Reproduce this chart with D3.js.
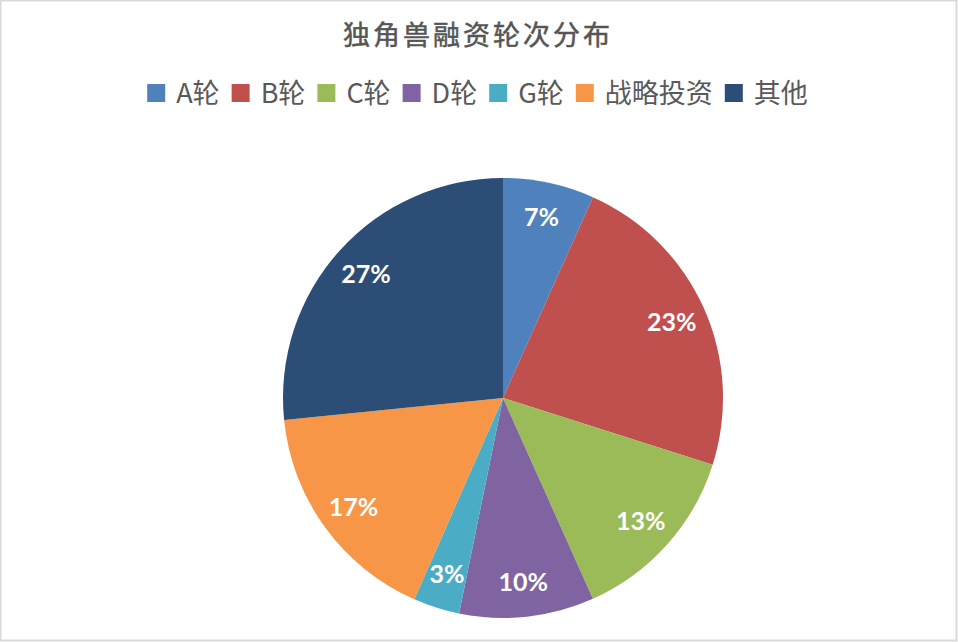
<!DOCTYPE html>
<html>
<head>
<meta charset="utf-8">
<script src="https://cdn.jsdelivr.net/npm/d3@7"></script>
<style>
  html, body { margin: 0; padding: 0; background: #fff; }
  svg { display: block; }
</style>
</head>
<body>
<svg id="chart" width="958" height="642"></svg>
<script>
// share of each round (percent)
const categories = ['A轮', 'B轮', 'C轮', 'D轮', 'G轮', '战略投资', '其他'];
const values = [6.7, 23.2, 13.4, 9.9, 3.4, 16.8, 26.6];
const colors = ['#4F81BD', '#C0504D', '#9BBB59', '#8064A2', '#4BACC6', '#F79646', '#2C4D75'];
const title = '独角兽融资轮次分布';

const width = 958;
const height = 642;
const cx = 503, cy = 398, radius = 220;

const svg = d3.select('#chart');

// outer frame
svg.append('rect')
    .attr('x', 0.5).attr('y', 0.5)
    .attr('width', width - 2).attr('height', height - 2)
    .style('fill', '#fff')
    .style('stroke', '#d9d9d9')
    .style('stroke-width', 2);

svg.append('text')
    .attr('x', 478)
    .attr('y', 45)
    .attr('text-anchor', 'middle')
    .style('font-family', '"Noto Sans CJK SC", sans-serif')
    .style('font-size', '27px')
    .style('letter-spacing', '3px')
    .style('fill', '#555')
    .style('stroke', '#555')
    .style('stroke-width', 0.5)
    .text(title);

// legend, laid out left to right then centred
const legend = svg.append('g');
const items = legend.selectAll('g')
    .data(categories)
    .enter()
    .append('g');

items.append('rect')
    .attr('width', 18)
    .attr('height', 18)
    .attr('y', -9)
    .style('fill', (d, i) => colors[i]);

items.append('text')
    .attr('x', 29)
    .attr('dy', '0.36em')
    .style('font-family', '"Noto Sans CJK SC", sans-serif')
    .style('font-size', '27px')
    .style('fill', '#595959')
    .text(d => d);

let xPos = 0;
items.each(function () {
    const g = d3.select(this);
    g.attr('transform', `translate(${xPos},0)`);
    const w = g.select('text').node().getComputedTextLength();
    xPos += 29 + w + 12;
});
const legendWidth = xPos - 12;
legend.attr('transform', `translate(${477.5 - legendWidth / 2},93)`);

// pie
const pie = d3.pie().sort(null).value(d => d);
const arcs = pie(values);
const arc = d3.arc().innerRadius(0).outerRadius(radius);
const labelArc = d3.arc().innerRadius(radius * 0.84).outerRadius(radius * 0.84);

const pieG = svg.append('g').attr('transform', `translate(${cx},${cy})`);

pieG.selectAll('path')
    .data(arcs)
    .enter()
    .append('path')
    .attr('d', arc)
    .style('fill', (d, i) => colors[i]);

const total = d3.sum(values);
pieG.selectAll('text')
    .data(arcs)
    .enter()
    .append('text')
    .attr('transform', d => `translate(${labelArc.centroid(d)})`)
    .attr('text-anchor', 'middle')
    .attr('dy', '0.36em')
    .style('font-family', 'Lato, "Open Sans", sans-serif')
    .style('font-weight', 'bold')
    .style('font-size', '25px')
    .style('fill', '#fff')
    .text(d => Math.round(d.data / total * 100) + '%');
</script>
</body>
</html>
